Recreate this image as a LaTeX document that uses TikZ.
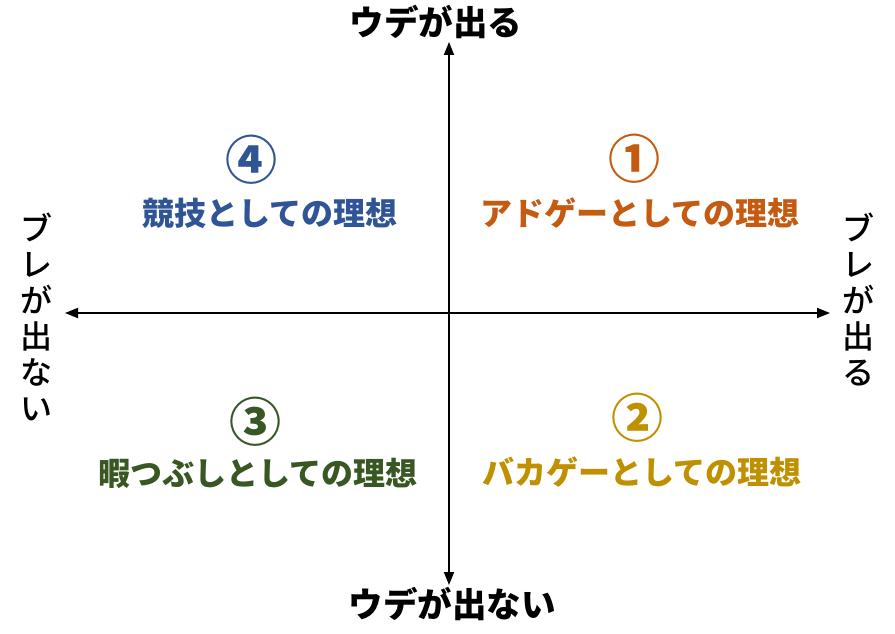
\documentclass[tikz,border=0pt]{standalone}
\usepackage{fontspec}
\usepackage{tikz}
\usetikzlibrary{positioning,calc,arrows.meta}
\usepackage{xcolor}
\newfontfamily\jp{Noto Sans CJK JP}
\newfontfamily\jpmed{Noto Sans CJK JP Medium}
\definecolor{adorange}{RGB}{197,90,17}
\definecolor{bakagold}{RGB}{191,144,0}
\definecolor{himagreen}{RGB}{56,87,35}
\definecolor{kyoblue}{RGB}{47,85,151}

\begin{document}
\begin{tikzpicture}[x=1pt, y=-1pt,
    axis/.style={line width=1.8pt, {Triangle[length=13pt,width=10pt]}-{Triangle[length=13pt,width=10pt]}},
    axislab/.style={font=\jp\bfseries\fontsize{34.5}{36}\selectfont, inner sep=0pt},
    sidelab/.style={font=\jpmed\fontsize{32}{36}\selectfont, align=center, inner sep=0pt},
    num/.style={font=\jp\bfseries\fontsize{52}{54}\selectfont, inner sep=0pt},
    ideal/.style={font=\jp\bfseries\fontsize{32}{34}\selectfont, inner sep=0pt}]

        \useasboundingbox (0,0) rectangle (895,634);

        \coordinate (north) at (449,42);
        \coordinate (south) at (449,585);
        \coordinate (west) at (65,313);
        \coordinate (east) at (830,313);

        \draw[axis] (south) -- (north);
        \draw[axis] (west) -- (east);

        \node[axislab] (udeup) at (436,22) {ウデが出る};
        \node[axislab] (udedown) at (452,604) {ウデが出ない};
        \node[sidelab] (bureno) at (36,317) {ブ\\レ\\が\\出\\な\\い};
        \node[sidelab] (bureyes) at (858,300) {ブ\\レ\\が\\出\\る};

        \foreach \n/\sym/\x/\y/\lx/\ly/\col/\lab in {
            one/①/634/159/640/213/adorange/アドゲーとしての理想,
            two/②/637/418/642/472/bakagold/バカゲーとしての理想,
            three/③/255/422/258/473/himagreen/暇つぶしとしての理想,
            four/④/251/160/270/213/kyoblue/競技としての理想} {
                \node[num, text=\col] (\n) at (\x,\y) {\sym};
                \node[ideal, text=\col] (\n-lab) at (\lx,\ly) {\lab};
        }

    \end{tikzpicture}
\end{document}
